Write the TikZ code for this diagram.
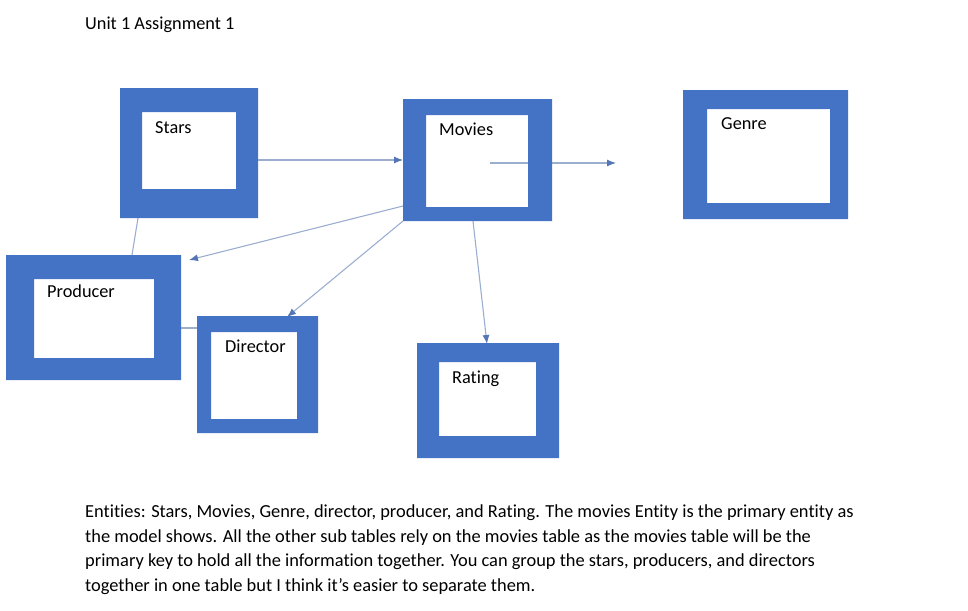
\documentclass[tikz,border=0pt]{standalone}
\usepackage{fontspec}
\setmainfont[Ligatures=NoCommon]{Carlito}
\usetikzlibrary{arrows.meta,calc}
\pgfdeclarelayer{fg}
\pgfsetlayers{main,fg}
\definecolor{boxblue}{HTML}{4472C4}
\definecolor{linec}{HTML}{9BAECF}
\definecolor{tipc}{HTML}{5575B5}
\tikzset{
  frame/.style={draw=none, inner sep=0pt, outer sep=0pt, minimum width=#1},
  lbl/.style={anchor=base west, inner sep=0pt, font=\fontsize{18.3}{20}\selectfont},
  conn/.style={draw=linec, line width=1.1pt},
  arr/.style={conn, -{Latex[length=9pt,width=7pt,color=tipc]}},
  para/.style={anchor=base west, inner sep=0pt, font=\fontsize{18.4}{20}\selectfont}
}
\begin{document}
\begin{tikzpicture}[x=1pt,y=-1pt]
\useasboundingbox (0,0) rectangle (968,610);
% outer and inner frames
\node[frame=138, minimum height=130] (stars) at (189,153) {};
\node[frame=94, minimum height=77] (starsin) at (189,150.5) {};
\node[frame=175, minimum height=125] (producer) at (93.5,317.5) {};
\node[frame=120, minimum height=79] (producerin) at (94,318.5) {};
\node[frame=121, minimum height=117] (director) at (257.5,374.5) {};
\node[frame=86, minimum height=87] (directorin) at (254,375.5) {};
\node[frame=149, minimum height=122] (movies) at (477.5,160) {};
\node[frame=102, minimum height=92] (moviesin) at (477,161) {};
\node[frame=165, minimum height=129] (genre) at (765.5,154.5) {};
\node[frame=123, minimum height=94] (genrein) at (768.5,156) {};
\node[frame=142, minimum height=115] (rating) at (488,400.5) {};
\node[frame=97, minimum height=74] (ratingin) at (487.5,399) {};
% labels
\node[lbl] (tstars) at (155,133) {Stars};
\node[lbl] (tmovies) at (439,135) {Movies};
\node[lbl] (tgenre) at (721,129) {Genre};
\node[lbl] (tproducer) at (47,297) {Producer};
\node[lbl] (tdirector) at (225,352) {Director};
\node[lbl] (trating) at (452,383) {Rating};
% connectors
\coordinate (gtip) at (616,163);
\coordinate (ptip) at (189,260);
\coordinate (pd) at ([yshift=-10.5pt]producer.east);
\draw[arr] (stars.east |- movies.west) -- (movies.west);
\draw[arr] ([xshift=12pt,yshift=-3pt]movies.center) -- (gtip);
\draw[arr] ([yshift=-46pt]movies.west) -- (ptip);
\draw[arr] (movies.south west) -- ([xshift=29.5pt,yshift=-1pt]director.north);
\draw[conn] ([xshift=-51pt]stars.south) -- ([xshift=38.5pt]producer.north);
\draw[conn] (pd) -- (pd -| director.west);
\draw[arr] ([xshift=-4.5pt]movies.south) -- ([xshift=-1pt,yshift=-1pt]rating.north);
% blue rings
\begin{pgfonlayer}{fg}
\foreach \b in {stars,producer,director,movies,genre,rating}{
  \fill[boxblue, even odd rule] (\b.north west) rectangle (\b.south east)
    (\b in.north west) rectangle (\b in.south east);
}
\end{pgfonlayer}
% text
\node[lbl] (title) at (85,30) {Unit 1 Assignment 1};
\node[para] (p1) at (85,517) {Entities: Stars, Movies, Genre, director, producer, and Rating. The movies Entity is the primary entity as};
\node[para] (p2) at (85,542) {the model shows. All the other sub tables rely on the movies table as the movies table will be the};
\node[para] (p3) at (85,566) {primary key to hold all the information together. You can group the stars, producers, and directors};
\node[para] (p4) at (85,591) {together in one table but I think it's easier to separate them.};
\end{tikzpicture}
\end{document}
